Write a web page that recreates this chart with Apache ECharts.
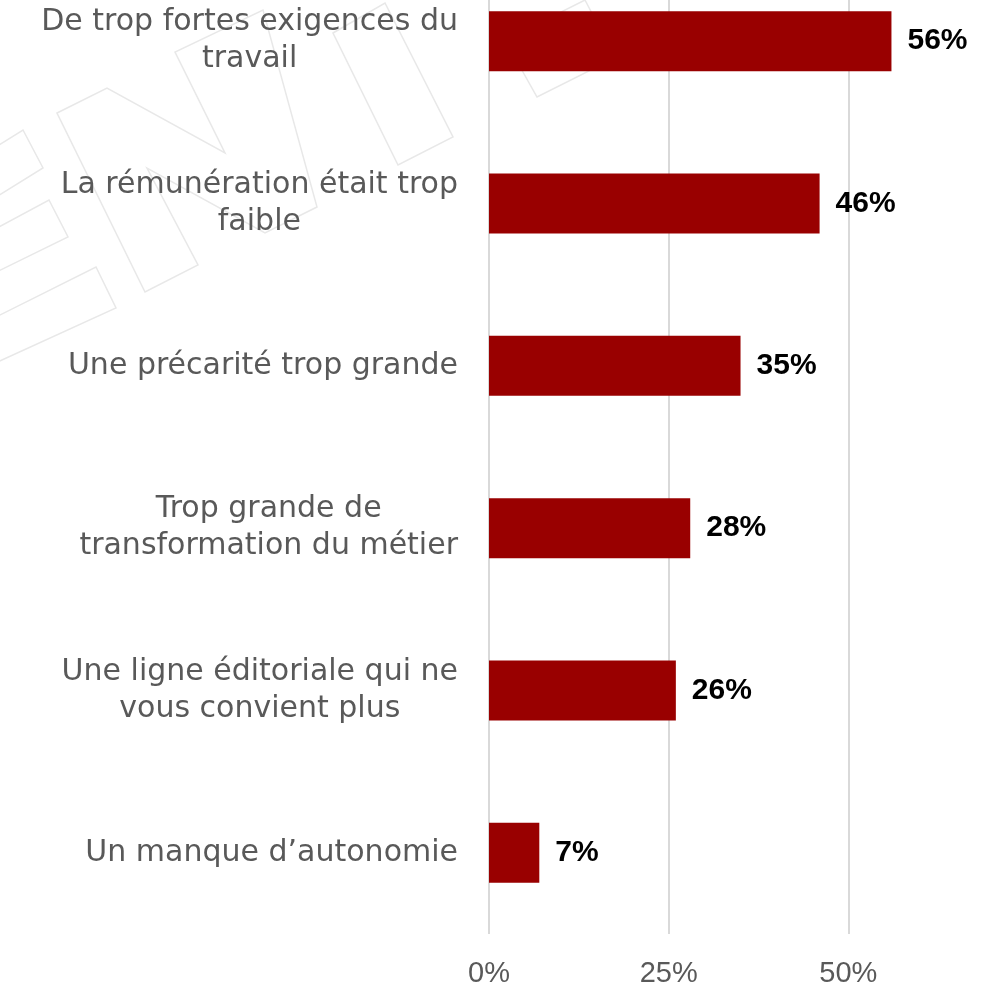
<!DOCTYPE html>
<html>
<head>
<meta charset="utf-8">
<script src="https://cdn.jsdelivr.net/npm/echarts@6/dist/echarts.min.js"></script>
<style>
html,body{margin:0;padding:0;background:#fff;}
#c{width:995px;height:989px;}
</style>
</head>
<body>
<div id="c"></div>
<script>
var categories = [
  "De trop fortes exigences du\ntravail",
  "La rémunération était trop\nfaible",
  "Une précarité trop grande",
  "Trop grande de\ntransformation du métier",
  "Une ligne éditoriale qui ne\nvous convient plus",
  "Un manque d\u2019autonomie"
];
var values = [56, 46, 35, 28, 26, 7];
var axisMin = 0, axisMax = 75, axisStep = 25;

var wmStyle = {fill: null, stroke: '#e8e8e8', lineWidth: 1.5};
function poly(pts){ return {type:'polygon', silent:true, z:-100, shape:{points:pts}, style:wmStyle}; }

var chart = echarts.init(document.getElementById('c'), null, {renderer:'canvas'});
chart.setOption({
  backgroundColor: '#ffffff',
  animation: false,
  graphic: [
    poly([[-20,157],[23,130],[43,168],[-20,207]]),
    poly([[-20,237],[49,200],[68,237],[-20,280]]),
    poly([[-20,325],[96,267],[116,308],[-20,370]]),
    poly([[57,113],[107,88],[225,153],[175,52],[263,10],[317,207],[265,233],[147,168],[198,265],[145,292]]),
    poly([[333,33],[385,3],[453,137],[398,165]]),
    poly([[505,40],[537,97],[615,58],[585,0]])
  ],
  grid: {left: 489, right: -33, top: -40, bottom: 55, containLabel: false, outerBoundsMode: 'none'},
  xAxis: {
    type: 'value', min: axisMin, max: axisMax, interval: axisStep,
    axisLine: {show:false}, axisTick: {show:false},
    splitLine: {show:true, lineStyle:{color:'#d9d9d9', width:2}},
    axisLabel: {formatter:'{value}%', color:'#595959', fontSize:29, fontFamily:'Liberation Sans', margin:25}
  },
  yAxis: {
    type: 'category', data: categories, inverse: true,
    axisLine: {show:false}, axisTick: {show:false},
    axisLabel: {
      margin: 31, color:'#595959',
      formatter: function(v){ return v.split('\n').map(function(s){return '{a|'+s+'}';}).join('\n'); },
      rich: {a: {fontSize:30, fontFamily:'DejaVu Sans', color:'#595959', align:'center', lineHeight:37}}
    }
  },
  series: [{
    type: 'bar', data: values, barWidth: 60,
    itemStyle: {color:'#990000'},
    label: {show:true, position:'right', distance:16, formatter:'{c}%', color:'#000000',
            fontSize:30, fontWeight:'bold', fontFamily:'Liberation Sans'}
  }]
});
</script>
</body>
</html>
